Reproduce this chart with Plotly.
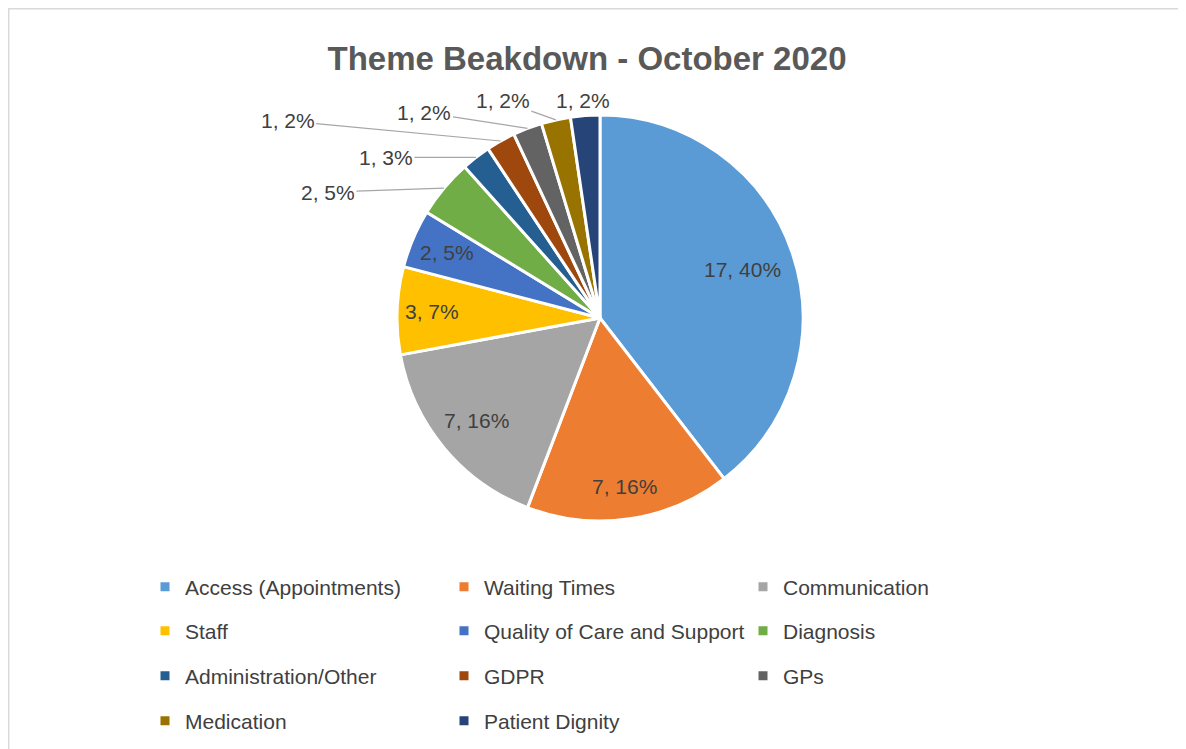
import math
import plotly.graph_objects as go

categories = ["Access (Appointments)", "Waiting Times", "Communication", "Staff",
              "Quality of Care and Support", "Diagnosis", "Administration/Other",
              "GDPR", "GPs", "Medication", "Patient Dignity"]
counts = [17, 7, 7, 3, 2, 2, 1, 1, 1, 1, 1]
pct_labels = ["40%", "16%", "16%", "7%", "5%", "5%", "3%", "2%", "2%", "2%", "2%"]
colors = ["#5B9BD5", "#ED7D31", "#A5A5A5", "#FFC000", "#4472C4", "#70AD47",
          "#255E91", "#9E480E", "#636363", "#997300", "#264478"]

# page has an 8px body margin: figure origin sits at page (8, 8)
OFF = 8
W, H = 1186 - OFF, 749 - OFF
CX, CY, R = 600 - OFF, 318 - OFF, 203
FONT = "Liberation Sans"
TXT = "#404040"
FS = 21

texts = [f"{c}, {p}" for c, p in zip(counts, pct_labels)]

fig = go.Figure()
fig.add_trace(go.Pie(
    labels=categories, values=counts, sort=False, direction="clockwise", rotation=0,
    marker=dict(colors=colors, line=dict(color="white", width=3)),
    textinfo="none", hoverinfo="label+value+percent", showlegend=False,
    domain=dict(x=[(CX - R) / W, (CX + R) / W], y=[1 - (CY + R) / H, 1 - (CY - R) / H]),
))

# label placement style: inside labels at a fraction of the radius, outside ones offset in px
inside_rfrac = {0: 0.74, 1: 0.84, 2: 0.79, 3: 0.83, 4: 0.82}
outside_offsets = {5: (-116, 4), 6: (-90, 0), 7: (-213, -20), 8: (-103, -16), 9: (-53, -19)}
plain_offsets = {10: (-2, -15)}

total = sum(counts)
cum = 0
for i, c in enumerate(counts):
    mid = (cum + c / 2) / total
    cum += c
    ang = 2 * math.pi * mid
    sx, sy = math.sin(ang), -math.cos(ang)
    font = dict(family=FONT, size=FS, color=TXT)
    if i in inside_rfrac:
        f = inside_rfrac[i]
        px, py = CX + f * R * sx, CY + f * R * sy
        fig.add_annotation(x=px / W, y=1 - py / H, xref="paper", yref="paper",
                           text=texts[i], showarrow=False, xanchor="center",
                           yanchor="middle", font=font)
    elif i in outside_offsets:
        px, py = CX + R * sx, CY + R * sy
        dx, dy = outside_offsets[i]
        fig.add_annotation(x=px / W, y=1 - py / H, xref="paper", yref="paper",
                           text=texts[i], showarrow=True, arrowhead=0, arrowwidth=1.2,
                           arrowcolor="#A6A6A6", ax=dx, ay=dy, axref="pixel",
                           ayref="pixel", font=font)
    else:
        px, py = CX + R * sx, CY + R * sy
        dx, dy = plain_offsets[i]
        fig.add_annotation(x=(px + dx) / W, y=1 - (py + dy) / H, xref="paper",
                           yref="paper", text=texts[i], showarrow=False,
                           xanchor="center", yanchor="middle", font=font)

# legend: 3 columns x 4 rows
row_y = [587, 631, 676, 721]
legend_names = ["legend", "legend2", "legend3", "legend4"]
for i, (cat, col) in enumerate(zip(categories, colors)):
    fig.add_trace(go.Scatter(x=[None], y=[None], mode="markers", name=cat,
                             marker=dict(symbol="square", size=9, color=col),
                             legend=legend_names[i // 3], showlegend=True,
                             hoverinfo="skip"))

layout_legends = {}
for ln, ry in zip(legend_names, row_y):
    layout_legends[ln] = dict(orientation="h", x=(145 - OFF) / W, xanchor="left",
                              y=1 - (ry - OFF) / H, yanchor="middle", entrywidth=254,
                              entrywidthmode="pixels",
                              font=dict(family=FONT, size=FS, color=TXT),
                              bgcolor="rgba(0,0,0,0)", itemclick=False,
                              itemdoubleclick=False)

fig.update_layout(
    width=W, height=H, paper_bgcolor="white", plot_bgcolor="white",
    margin=dict(l=0, r=0, t=0, b=0),
    title=dict(text="<b>Theme Beakdown - October 2020</b>", x=(587 - OFF) / W,
               xanchor="center", y=1 - (58 - OFF) / H, yanchor="middle",
               font=dict(family=FONT, size=33, color="#595959")),
    xaxis=dict(visible=False), yaxis=dict(visible=False),
    shapes=[dict(type="rect", xref="paper", yref="paper", x0=0.7 / W, x1=1.02,
                 y0=-0.02, y1=1 - 0.7 / H, line=dict(color="#D9D9D9", width=1.5))],
    **layout_legends,
)

fig.write_html("out.html")
